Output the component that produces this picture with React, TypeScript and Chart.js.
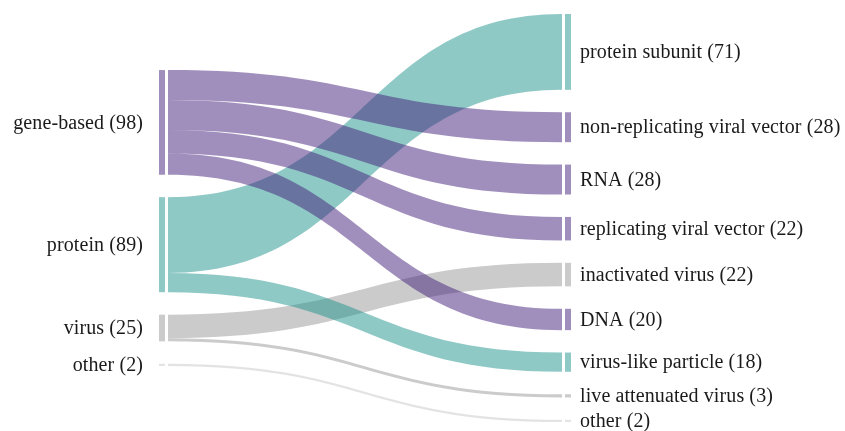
import React, { useEffect, useRef } from "react";
import { Chart, registerables } from "chart.js";

Chart.register(...registerables);

const sourceNames = ["gene-based", "protein", "virus", "other"];
const targetNames = [
  "protein subunit",
  "non-replicating viral vector",
  "RNA",
  "replicating viral vector",
  "inactivated virus",
  "DNA",
  "virus-like particle",
  "live attenuated virus",
  "other",
];
const linkFrom = [0, 0, 0, 0, 1, 1, 2, 2, 3];
const linkTo = [1, 2, 3, 5, 0, 6, 4, 7, 8];
const linkValue = [28, 28, 22, 20, 71, 18, 22, 3, 2];

const sourceColors = [
  "rgba(65,31,121,0.5)",
  "rgba(31,147,141,0.5)",
  "rgba(151,151,151,0.5)",
  "rgba(200,200,200,0.5)",
];

const NODE_GAP = 21; // value units between nodes
const NODE_W = 6;
const LINK_PAD = 3;
const FONT = "20px 'Liberation Serif', 'DejaVu Serif', serif";

function sum(a: number[]) {
  return a.reduce((s, v) => s + v, 0);
}

const sourceTotals = sourceNames.map((_, i) =>
  sum(linkValue.filter((_, k) => linkFrom[k] === i))
);
const targetTotals = targetNames.map((_, i) =>
  sum(linkValue.filter((_, k) => linkTo[k] === i))
);
const rightSpan = sum(targetTotals) + NODE_GAP * (targetNames.length - 1);
const leftSpan = sum(sourceTotals) + NODE_GAP * (sourceNames.length - 1);

function stack(totals: number[], start: number) {
  const out: number[] = [];
  let y = start;
  totals.forEach((t) => {
    out.push(y);
    y += t + NODE_GAP;
  });
  return out;
}

const sankeyPlugin = {
  id: "sankeyDraw",
  afterDatasetsDraw(chart: any) {
    const ctx = chart.ctx as CanvasRenderingContext2D;
    const xs = chart.scales.x;
    const ys = chart.scales.y;
    const leftTop = stack(sourceTotals, (rightSpan - leftSpan) / 2);
    const rightTop = stack(targetTotals, 0);
    const xL = xs.getPixelForValue(0);
    const xR = xs.getPixelForValue(1);
    const x0 = xL + NODE_W + LINK_PAD;
    const x1 = xR - NODE_W - LINK_PAD;
    const xm = (x0 + x1) / 2;

    const srcOff = leftTop.slice();
    const tgtOff = rightTop.slice();
    const links = linkValue.map((v, k) => {
      const s = linkFrom[k];
      const t = linkTo[k];
      const a = srcOff[s];
      const b = tgtOff[t];
      srcOff[s] += v;
      tgtOff[t] += v;
      return { s, t, a, b, v };
    });

    ctx.save();
    const order = [3, 2, 1, 0];
    order.forEach((si) => {
      links
        .filter((l) => l.s === si)
        .forEach((l) => {
          const ya0 = ys.getPixelForValue(l.a);
          const ya1 = ys.getPixelForValue(l.a + l.v);
          const yb0 = ys.getPixelForValue(l.b);
          const yb1 = ys.getPixelForValue(l.b + l.v);
          ctx.beginPath();
          ctx.moveTo(x0, ya0);
          ctx.bezierCurveTo(xm, ya0, xm, yb0, x1, yb0);
          ctx.lineTo(x1, yb1);
          ctx.bezierCurveTo(xm, yb1, xm, ya1, x0, ya1);
          ctx.closePath();
          ctx.fillStyle = sourceColors[l.s];
          ctx.fill();
        });
    });

    sourceNames.forEach((_, i) => {
      const y0 = ys.getPixelForValue(leftTop[i]);
      const y1 = ys.getPixelForValue(leftTop[i] + sourceTotals[i]);
      ctx.fillStyle = sourceColors[i];
      ctx.fillRect(xL, y0, NODE_W, y1 - y0);
    });
    targetNames.forEach((_, i) => {
      const y0 = ys.getPixelForValue(rightTop[i]);
      const y1 = ys.getPixelForValue(rightTop[i] + targetTotals[i]);
      const k = linkTo.indexOf(i);
      ctx.fillStyle = sourceColors[linkFrom[k]];
      ctx.fillRect(xR - NODE_W, y0, NODE_W, y1 - y0);
    });

    ctx.font = FONT;
    (ctx as any).letterSpacing = "0.1px";
    ctx.fillStyle = "#1a1a1a";
    ctx.textBaseline = "middle";
    ctx.textAlign = "right";
    sourceNames.forEach((n, i) => {
      const yc = ys.getPixelForValue(leftTop[i] + sourceTotals[i] / 2) + 1;
      ctx.fillText(`${n} (${sourceTotals[i]})`, xL - 16, yc);
    });
    ctx.textAlign = "left";
    targetNames.forEach((n, i) => {
      const yc = ys.getPixelForValue(rightTop[i] + targetTotals[i] / 2) + 1;
      ctx.fillText(`${n} (${targetTotals[i]})`, xR + 9, yc);
    });
    ctx.restore();
  },
};

export default function App() {
  const ref = useRef<HTMLCanvasElement | null>(null);
  useEffect(() => {
    document.body.style.margin = "0";
    if (!ref.current) return;
    const chart = new Chart(ref.current, {
      type: "scatter",
      data: { datasets: [{ data: [] }] },
      options: {
        animation: false,
        responsive: true,
        maintainAspectRatio: false,
        layout: { padding: { left: 159, right: 274, top: 14, bottom: 9 } },
        plugins: { legend: { display: false }, tooltip: { enabled: false } },
        scales: {
          x: { type: "linear", min: 0, max: 1, display: false },
          y: { type: "linear", min: 0, max: rightSpan, reverse: true, display: false },
        },
      },
      plugins: [sankeyPlugin],
    });
    return () => chart.destroy();
  }, []);
  return (
    <div style={{ position: "relative", width: 845, height: 431 }}>
      <canvas ref={ref} />
    </div>
  );
}
